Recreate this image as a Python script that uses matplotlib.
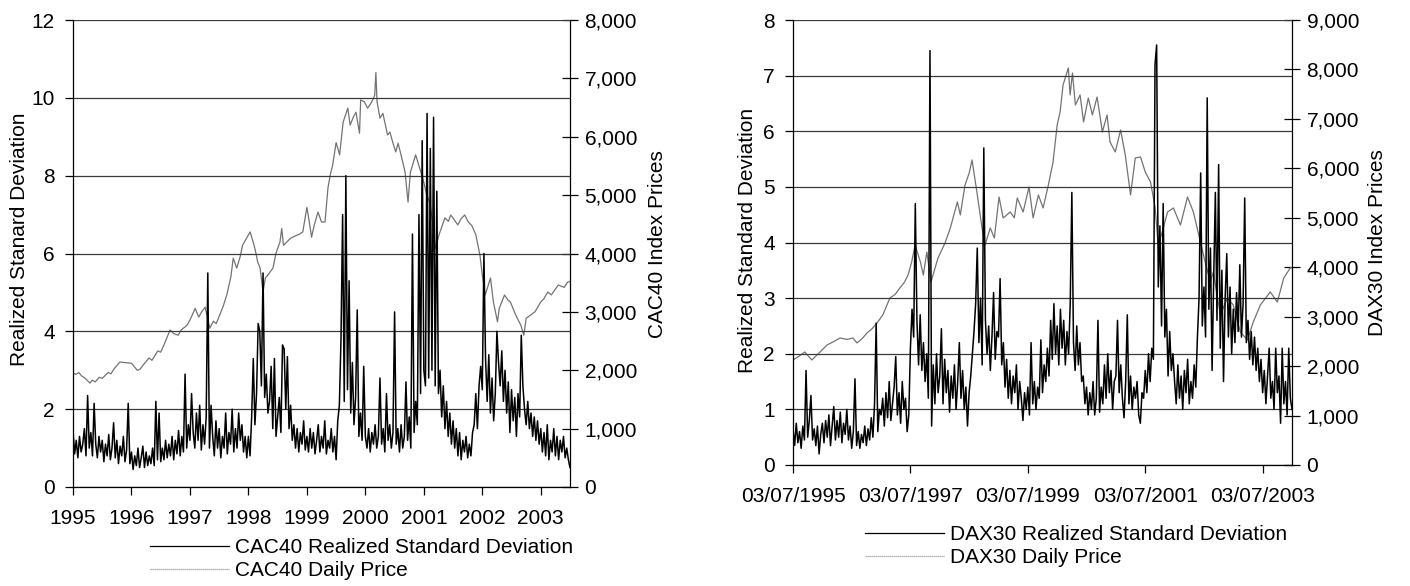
import numpy as np
import matplotlib
matplotlib.use("Agg")
import matplotlib.pyplot as plt
from matplotlib.ticker import FuncFormatter, MultipleLocator

plt.rcParams["font.family"] = ["Liberation Sans", "DejaVu Sans"]
plt.rcParams["font.size"] = 15

# ---- CAC40: realized std dev, ~10 day steps from 1995.0 to 2003.5 ----
cac_vol = [
    1.45, 0.85, 1.2, 0.75, 1.3, 0.9, 1.1, 1.5, 0.8, 2.35, 1.0, 1.4, 0.8, 2.15, 1.1, 0.75, 1.3, 0.9,
    1.2, 0.65, 1.1, 0.8, 1.35, 0.7, 1.0, 1.65, 0.75, 1.2, 0.6, 1.05, 0.8, 1.3, 0.65, 0.95, 2.15, 0.6,
    0.9, 0.45, 0.8, 0.55, 1.0, 0.5, 0.75, 1.05, 0.5, 0.9, 0.55, 0.8, 0.6, 1.0, 0.55, 2.2, 0.7, 1.9,
    0.65, 1.0, 0.7, 1.2, 0.75, 1.1, 0.8, 1.3, 0.7, 1.2, 0.85, 1.45, 0.8, 1.3, 0.9, 2.9, 1.0, 1.6,
    1.2, 2.4, 1.4, 1.0, 1.9, 1.2, 2.1, 0.95, 1.6, 1.1, 1.8, 5.5, 1.0, 2.1, 1.3, 0.8, 1.7, 1.0,
    1.5, 0.75, 1.3, 1.0, 1.9, 0.85, 1.4, 1.1, 2.0, 0.9, 1.5, 1.0, 1.9, 1.2, 1.6, 0.9, 1.3, 0.75,
    1.3, 0.8, 1.8, 3.3, 1.6, 2.4, 4.2, 4.0, 2.6, 5.5, 2.3, 2.9, 1.9, 2.2, 3.1, 1.5, 3.3, 1.3,
    1.8, 2.3, 1.4, 3.65, 3.55, 2.0, 3.35, 1.5, 2.1, 1.2, 1.6, 1.0, 1.5, 0.9, 1.4, 1.1, 1.7, 0.95,
    1.3, 0.9, 1.5, 1.0, 1.4, 0.85, 1.2, 1.6, 0.9, 1.3, 1.0, 1.7, 0.85, 1.2, 1.0, 1.5, 0.9, 1.3,
    0.7, 1.7, 2.1, 3.8, 7.0, 2.2, 8.0, 2.5, 5.3, 1.9, 3.2, 1.6, 2.3, 4.55, 1.3, 1.9, 1.2, 3.1,
    1.3, 1.0, 1.5, 0.9, 1.4, 1.1, 1.6, 1.0, 1.3, 2.8, 1.1, 1.5, 0.9, 2.4, 1.2, 1.6, 1.0, 1.4,
    4.5, 1.1, 1.5, 0.9, 1.6, 1.0, 1.3, 2.7, 1.2, 1.8, 1.0, 6.5, 1.4, 2.2, 1.6, 7.0, 2.4, 8.9,
    3.0, 2.6, 9.6, 2.8, 8.7, 3.0, 9.5, 2.6, 7.6, 2.4, 3.0, 1.8, 2.6, 1.5, 2.2, 1.3, 1.9, 1.1,
    1.7, 1.0, 1.5, 0.8, 1.4, 0.7, 1.2, 0.9, 1.3, 0.75, 1.1, 0.8, 1.4, 1.6, 2.4, 1.5, 2.6, 3.1,
    2.5, 6.0, 3.3, 2.2, 3.4, 1.9, 2.8, 1.7, 2.4, 4.0, 3.2, 2.6, 3.5, 2.2, 3.0, 1.9, 2.7, 1.4,
    2.5, 1.7, 2.3, 1.3, 2.4, 1.8, 3.9, 2.6, 2.0, 1.6, 2.2, 1.5, 1.9, 1.3, 1.8, 1.2, 1.7, 1.1,
    1.5, 0.9, 1.4, 0.8, 1.6, 0.7, 1.2, 0.9, 1.5, 0.8, 1.3, 0.7, 1.2, 0.9, 1.3, 0.75, 1.0, 0.7, 0.5,
]

# ---- CAC40 daily price, key points (year, index level) ----
cac_px_t = [
    1995.00, 1995.05, 1995.10, 1995.15, 1995.20, 1995.29, 1995.33, 1995.38, 1995.45, 1995.50,
    1995.60, 1995.65, 1995.70, 1995.80, 1995.90, 1996.00, 1996.10, 1996.15, 1996.20, 1996.30,
    1996.35, 1996.45, 1996.50, 1996.55, 1996.66, 1996.72, 1996.80, 1996.85, 1996.95, 1997.00,
    1997.09, 1997.15, 1997.20, 1997.26, 1997.34, 1997.40, 1997.45, 1997.51, 1997.57, 1997.63,
    1997.70, 1997.74, 1997.80, 1997.86, 1997.90, 1997.96, 1998.03, 1998.08, 1998.11, 1998.16,
    1998.20, 1998.25, 1998.29, 1998.34, 1998.42, 1998.47, 1998.54, 1998.57, 1998.60, 1998.66,
    1998.72, 1998.80, 1998.87, 1998.93, 1999.00, 1999.04, 1999.08, 1999.13, 1999.19, 1999.25,
    1999.31, 1999.36, 1999.40, 1999.44, 1999.50, 1999.56, 1999.62, 1999.70, 1999.74, 1999.80,
    1999.84, 1999.90, 1999.92, 1999.98, 2000.04, 2000.10, 2000.16, 2000.18, 2000.20, 2000.25,
    2000.30, 2000.38, 2000.42, 2000.47, 2000.52, 2000.56, 2000.62, 2000.68, 2000.73, 2000.77,
    2000.86, 2000.93, 2001.00, 2001.05, 2001.10, 2001.15, 2001.20, 2001.26, 2001.36, 2001.42,
    2001.46, 2001.52, 2001.58, 2001.64, 2001.70, 2001.76, 2001.82, 2001.89, 2001.96, 2002.00,
    2002.05, 2002.14, 2002.19, 2002.26, 2002.29, 2002.38, 2002.44, 2002.48, 2002.57, 2002.66,
    2002.71, 2002.75, 2002.90, 2003.00, 2003.05, 2003.12, 2003.18, 2003.30, 2003.40, 2003.46,
    2003.50,
]
cac_px = [
    1950, 1930, 1960, 1900, 1870, 1780, 1830, 1800, 1880, 1860,
    1960, 1940, 2020, 2140, 2130, 2120, 2000, 2020, 2090, 2210,
    2170, 2330, 2310, 2420, 2690, 2630, 2600, 2690, 2770, 2860,
    3060, 2910, 3000, 3080, 2720, 2840, 2800, 2950, 3100, 3290,
    3600, 3920, 3750, 3950, 4140, 4250, 4370, 4200, 4090, 3850,
    3750, 3340, 3580, 3640, 3750, 4000, 4200, 4430, 4140, 4200,
    4260, 4300, 4330, 4370, 4790, 4550, 4280, 4500, 4710, 4540,
    4540, 5120, 5350, 5510, 5900, 5690, 6250, 6490, 6200, 6350,
    6420, 6060, 6630, 6600, 6490, 6580, 6710, 7100, 6600, 6320,
    6400, 6030, 6080, 5900, 5740, 5890, 5650, 5390, 4880, 5390,
    5690, 5460, 5220, 5000, 4880, 4540, 4090, 4320, 4610, 4550,
    4660, 4580, 4490, 4600, 4660, 4540, 4480, 4320, 3970, 3630,
    3290, 3580, 3170, 2830, 3060, 3290, 3200, 3170, 2950, 2770,
    2600, 2890, 3000, 3170, 3220, 3340, 3290, 3460, 3420, 3510,
    3520,
]

# ---- DAX30: realized std dev, ~10 day steps from 03/07/1995 to end 2003 ----
dax_vol = [
    0.65, 0.35, 0.75, 0.4, 0.6, 0.3, 0.7, 0.45, 1.7, 0.5, 0.8, 1.25, 0.45, 0.65, 0.35, 0.7, 0.2, 0.55,
    0.75, 0.4, 0.8, 0.5, 0.9, 0.35, 0.7, 1.05, 0.45, 0.8, 0.5, 0.95, 0.4, 0.75, 0.55, 1.0, 0.45, 0.7,
    0.3, 0.6, 1.55, 0.35, 0.6, 0.3, 0.55, 0.4, 0.7, 0.35, 0.65, 0.45, 0.85, 0.5, 1.1, 2.55, 0.6, 1.0,
    0.9, 1.2, 0.7, 1.3, 0.85, 1.5, 0.8, 1.1, 1.4, 1.95, 0.9, 1.3, 0.75, 1.5, 1.0, 1.2, 0.6, 0.9,
    2.1, 2.8, 2.3, 4.7, 2.6, 1.8, 2.7, 1.7, 2.2, 1.5, 2.0, 1.2, 7.45, 0.7, 1.8, 1.1, 2.0, 1.3,
    1.6, 2.45, 1.1, 1.9, 1.3, 1.7, 0.95, 1.6, 1.2, 1.8, 1.0, 1.5, 2.2, 1.2, 1.7, 1.0, 1.4, 0.7,
    1.3, 1.6, 2.0, 2.4, 2.9, 3.9, 2.2, 3.0, 1.8, 5.7, 2.6, 2.0, 2.5, 1.7, 2.3, 3.1, 1.9, 2.4,
    2.3, 3.35, 1.8, 2.2, 1.4, 1.9, 1.2, 1.7, 1.1, 1.6, 1.3, 1.8, 1.0, 1.5, 1.2, 0.8, 1.3, 1.0,
    1.4, 0.9, 2.2, 1.1, 1.5, 1.0, 1.4, 1.2, 2.25, 1.3, 1.8, 1.5, 2.1, 1.6, 2.6, 1.9, 2.9, 2.0,
    2.5, 1.8, 2.8, 2.1, 2.6, 1.8, 2.4, 2.0, 2.9, 4.9, 2.2, 1.7, 2.5, 1.8, 2.2, 1.5, 1.6, 1.1,
    1.4, 0.9, 1.3, 1.0, 1.5, 0.9, 1.2, 2.6, 0.95, 1.4, 1.1, 1.8, 1.2, 2.0, 1.3, 1.7, 1.0, 1.5,
    1.6, 2.6, 1.3, 1.8, 1.2, 0.85, 1.5, 2.7, 1.1, 1.6, 1.0, 1.4, 1.2, 1.5, 0.9, 0.75, 1.3, 1.2,
    1.7, 1.3, 2.0, 1.5, 2.1, 1.9, 7.2, 7.55, 3.2, 4.3, 2.5, 4.7, 2.3, 2.8, 1.6, 2.4, 1.7, 2.0,
    1.5, 1.1, 1.8, 1.2, 1.6, 1.0, 1.7, 1.3, 1.9, 1.1, 1.5, 1.2, 1.8, 1.4, 2.3, 3.0, 5.25, 2.5,
    3.2, 2.3, 6.6, 2.8, 3.9, 1.7, 3.4, 4.9, 2.6, 5.4, 2.1, 3.5, 1.5, 3.0, 3.8, 2.3, 3.2, 2.0,
    2.8, 2.2, 3.1, 2.4, 3.6, 2.3, 2.9, 4.8, 2.2, 2.6, 1.9, 2.4, 1.8, 2.3, 1.7, 2.1, 1.5, 1.9,
    1.3, 1.7, 1.1, 1.6, 2.1, 1.2, 1.5, 1.0, 2.1, 1.3, 1.6, 0.75, 2.1, 1.1, 1.5, 0.9, 2.1, 1.2, 1.0,
]

# ---- DAX30 daily price, key points (year, index level) ----
dax_px_t = [
    1995.50, 1995.60, 1995.70, 1995.82, 1995.96, 1996.08, 1996.20, 1996.30, 1996.42, 1996.52,
    1996.59, 1996.68, 1996.76, 1996.85, 1996.93, 1997.03, 1997.15, 1997.24, 1997.32, 1997.40,
    1997.46, 1997.52, 1997.58, 1997.67, 1997.72, 1997.78, 1997.85, 1997.97, 1998.09, 1998.18,
    1998.30, 1998.35, 1998.43, 1998.50, 1998.55, 1998.64, 1998.72, 1998.77, 1998.86, 1998.93,
    1999.01, 1999.08, 1999.20, 1999.27, 1999.32, 1999.42, 1999.52, 1999.59, 1999.68, 1999.76,
    1999.85, 1999.93, 2000.00, 2000.05, 2000.10, 2000.19, 2000.22, 2000.26, 2000.31, 2000.39,
    2000.45, 2000.53, 2000.60, 2000.68, 2000.77, 2000.85, 2000.90, 2000.99, 2001.08, 2001.16,
    2001.25, 2001.33, 2001.42, 2001.50, 2001.59, 2001.67, 2001.72, 2001.79, 2001.88, 2001.98,
    2002.10, 2002.22, 2002.32, 2002.44, 2002.52, 2002.61, 2002.66, 2002.78, 2002.90, 2003.00,
    2003.12, 2003.24, 2003.34, 2003.46, 2003.63, 2003.75, 2003.86, 2003.97, 2004.00,
]
dax_px = [
    2124, 2200, 2285, 2124, 2285, 2427, 2500, 2569, 2540, 2569,
    2468, 2560, 2670, 2760, 2872, 3034, 3378, 3450, 3580, 3700,
    3843, 4100, 4450, 4106, 3843, 4308, 3701, 4187, 4490, 4794,
    5320, 5057, 5663, 5900, 6169, 5461, 4794, 4450, 4794, 4591,
    5420, 4996, 5117, 5000, 5400, 5117, 5623, 4996, 5461, 5198,
    5663, 6129, 6877, 7140, 7686, 8030, 7484, 7929, 7282, 7484,
    6938, 7423, 7080, 7443, 6736, 7080, 6533, 6331, 6776, 6270,
    5461, 6209, 6230, 5926, 5724, 5198, 4450, 4713, 5117, 5198,
    4854, 5420, 5117, 4510, 4106, 3701, 3904, 3034, 3378, 3236,
    2690, 2528, 2892, 3236, 3499, 3297, 3782, 3985, 3990,
]

cac_years = [1995, 1996, 1997, 1998, 1999, 2000, 2001, 2002, 2003]
dax_tick_pos = [1995.5, 1997.5, 1999.5, 2001.5, 2003.5]
dax_tick_labels = ["03/07/1995", "03/07/1997", "03/07/1999", "03/07/2001", "03/07/2003"]

W, H = 1410, 586
fig = plt.figure(figsize=(W / 100, H / 100), dpi=100)

vol_color = "black"
px_color = "0.45"
comma = FuncFormatter(lambda v, p: f"{int(v):,}")


def panel(rect, t_vol, vol, t_px, px, ymax_l, step_l, ymax_r, step_r,
          ylab_l, ylab_r, lab_l_xy, lab_r_xy):
    ax = fig.add_axes(rect)
    ax2 = ax.twinx()
    ax.set_zorder(ax2.get_zorder() + 1)
    ax.patch.set_visible(False)

    ax2.plot(t_px, px, color=px_color, lw=0.9)
    ax.plot(t_vol, vol, color=vol_color, lw=1.1)

    ax.set_ylim(0, ymax_l)
    ax2.set_ylim(0, ymax_r)
    ax.yaxis.set_major_locator(MultipleLocator(step_l))
    ax2.yaxis.set_major_locator(MultipleLocator(step_r))
    ax2.yaxis.set_major_formatter(comma)

    ax.grid(axis="y", color="#3a3a3a", lw=0.9)
    ax.set_axisbelow(True)

    for a in (ax, ax2):
        a.spines["top"].set_visible(False)
        for s in ("left", "right", "bottom"):
            a.spines[s].set_color("black")
            a.spines[s].set_linewidth(0.9)
    ax.spines["right"].set_visible(False)
    ax2.spines["left"].set_visible(False)
    ax2.spines["bottom"].set_visible(False)

    ax.tick_params(axis="y", direction="out", length=6, width=0.9, pad=7)
    ax.tick_params(axis="x", direction="out", length=6, width=0.9, pad=10)
    ax2.tick_params(axis="y", direction="inout", length=11, width=0.9, pad=5)

    ax.set_ylabel(ylab_l)
    ax.yaxis.set_label_coords(*lab_l_xy)
    ax2.set_ylabel(ylab_r, rotation=90)
    ax2.yaxis.set_label_coords(*lab_r_xy)
    return ax, ax2


# left panel: CAC40
cac_t = np.linspace(1995.0, 2003.5, len(cac_vol))
axL, axL2 = panel([73 / W, 1 - 487 / H, 497 / W, 467 / H],
                  cac_t, cac_vol, cac_px_t, cac_px, 12, 2, 8000, 1000,
                  "Realized Stanard Deviation", "CAC40 Index Prices",
                  (-0.089, 0.53), (1.157, 0.52))
axL.set_xlim(1995.0, 2003.5)
axL.set_xticks(cac_years)
axL.set_xticklabels([str(y) for y in cac_years])

# right panel: DAX30
dax_t = np.linspace(1995.5, 2004.0, len(dax_vol))
axR, axR2 = panel([793 / W, 1 - 465 / H, 499 / W, 445 / H],
                  dax_t, dax_vol, dax_px_t, dax_px, 8, 1, 9000, 1000,
                  "Realized Standard Deviation", "DAX30 Index Prices",
                  (-0.072, 0.505), (1.152, 0.5))
axR.set_xlim(1995.5, 2004.0)
axR.set_xticks(dax_tick_pos)
axR.set_xticklabels(dax_tick_labels)

# legends below each panel
for names, x0, ytop in (
    (["CAC40 Realized Standard Deviation", "CAC40 Daily Price"], 150, 538),
    (["DAX30 Realized Standard Deviation", "DAX30 Daily Price"], 865, 525),
):
    h1 = plt.Line2D([], [], color=vol_color, lw=0.9)
    h2 = plt.Line2D([], [], color="0.6", lw=0.9, ls=(0, (1, 0.6)))
    fig.legend([h1, h2], names, loc="upper left",
               bbox_to_anchor=(x0 / W, 1 - ytop / H), frameon=False,
               borderpad=0, borderaxespad=0, handlelength=3.8,
               handletextpad=0.3, labelspacing=0.2)

fig.savefig("out.png", dpi=100)
